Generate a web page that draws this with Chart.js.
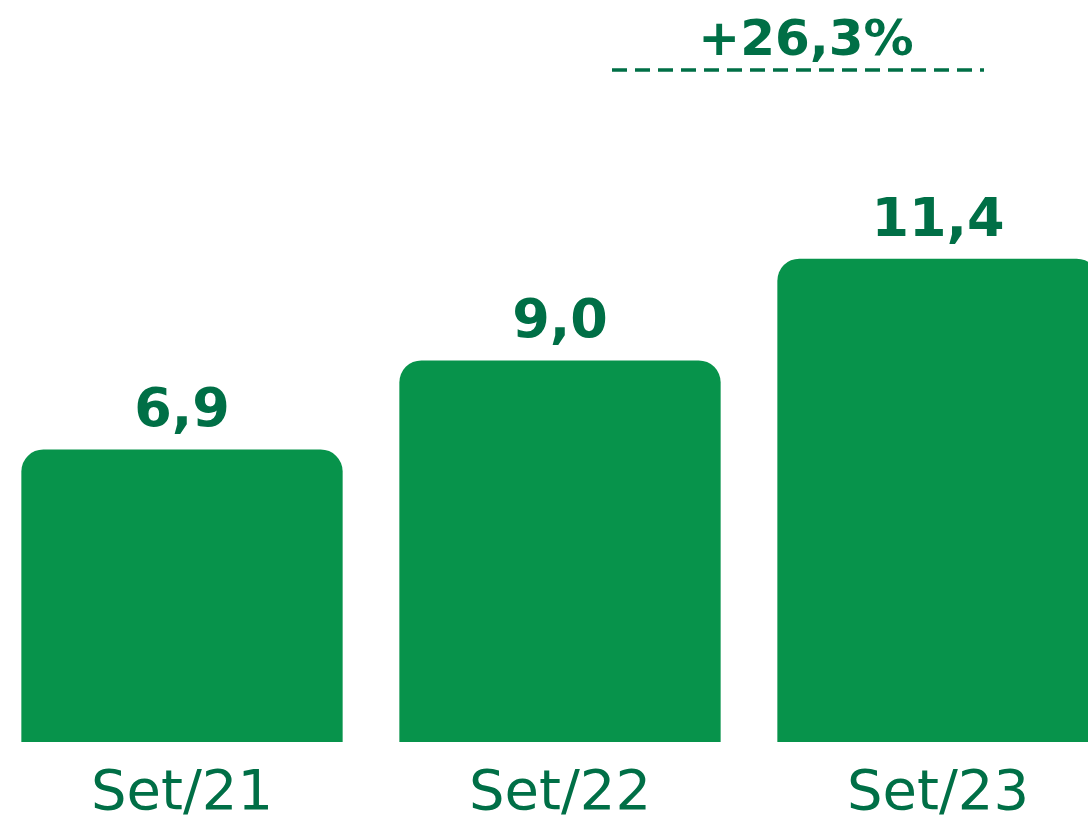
<!DOCTYPE html>
<html>
<head>
<meta charset="utf-8">
<script src="https://cdn.jsdelivr.net/npm/chart.js@4"></script>
<style>
  html, body { margin: 0; padding: 0; background: #fff; overflow: hidden; }
  #wrap { position: absolute; left: -7px; top: 0; width: 1134px; height: 838px; }
</style>
</head>
<body>
<div id="wrap"><canvas id="grafico"></canvas></div>
<script>
// dados
const periodos = ['Set/21', 'Set/22', 'Set/23'];
const valores = [6.9, 9.0, 11.4];
const variacao = '+26,3%';

const verdeBarra = '#07934b';
const verdeTexto = '#006f46';

// rótulos em cima de cada barra (com vírgula decimal)
const rotulosPlugin = {
    id: 'rotulos',
    afterDatasetsDraw(chart) {
        const ctx = chart.ctx;
        const meta = chart.getDatasetMeta(0);
        ctx.save();
        ctx.fillStyle = verdeTexto;
        ctx.font = 'bold 54px "DejaVu Sans"';
        ctx.textAlign = 'center';
        ctx.textBaseline = 'alphabetic';
        meta.data.forEach((bar, i) => {
            const txt = valores[i].toFixed(1).replace('.', ',');
            ctx.fillText(txt, bar.x, bar.y - 23);
        });

        // linha tracejada e variação entre Set/22 e Set/23
        const b2 = meta.data[1];
        const b3 = meta.data[2];
        const x0 = b2.x + 52;
        const x1 = b3.x + 46;
        ctx.strokeStyle = verdeTexto;
        ctx.lineWidth = 3.5;
        ctx.setLineDash([15, 8]);
        ctx.beginPath();
        ctx.moveTo(x0, 70);
        ctx.lineTo(x1, 70);
        ctx.stroke();
        ctx.setLineDash([]);
        ctx.font = 'bold 50px "DejaVu Sans"';
        ctx.fillText(variacao, (x0 + x1) / 2 + 8, 55);
        ctx.restore();
    }
};

const ctx = document.getElementById('grafico').getContext('2d');
new Chart(ctx, {
    type: 'bar',
    data: {
        labels: periodos,
        datasets: [{
            data: valores,
            backgroundColor: verdeBarra,
            borderRadius: { topLeft: 22, topRight: 22 },
            borderSkipped: 'bottom',
            barPercentage: 0.85,
            categoryPercentage: 1
        }]
    },
    options: {
        responsive: true,
        maintainAspectRatio: false,
        animation: false,
        layout: { padding: 0 },
        plugins: {
            legend: { display: false },
            tooltip: { enabled: false }
        },
        scales: {
            x: {
                grid: { display: false },
                border: { display: false },
                ticks: {
                    color: verdeTexto,
                    font: { family: 'DejaVu Sans', size: 56, lineHeight: 1 },
                    padding: 16
                }
            },
            y: {
                display: false,
                min: 0,
                max: 17.5
            }
        }
    },
    plugins: [rotulosPlugin]
});
</script>
</body>
</html>
